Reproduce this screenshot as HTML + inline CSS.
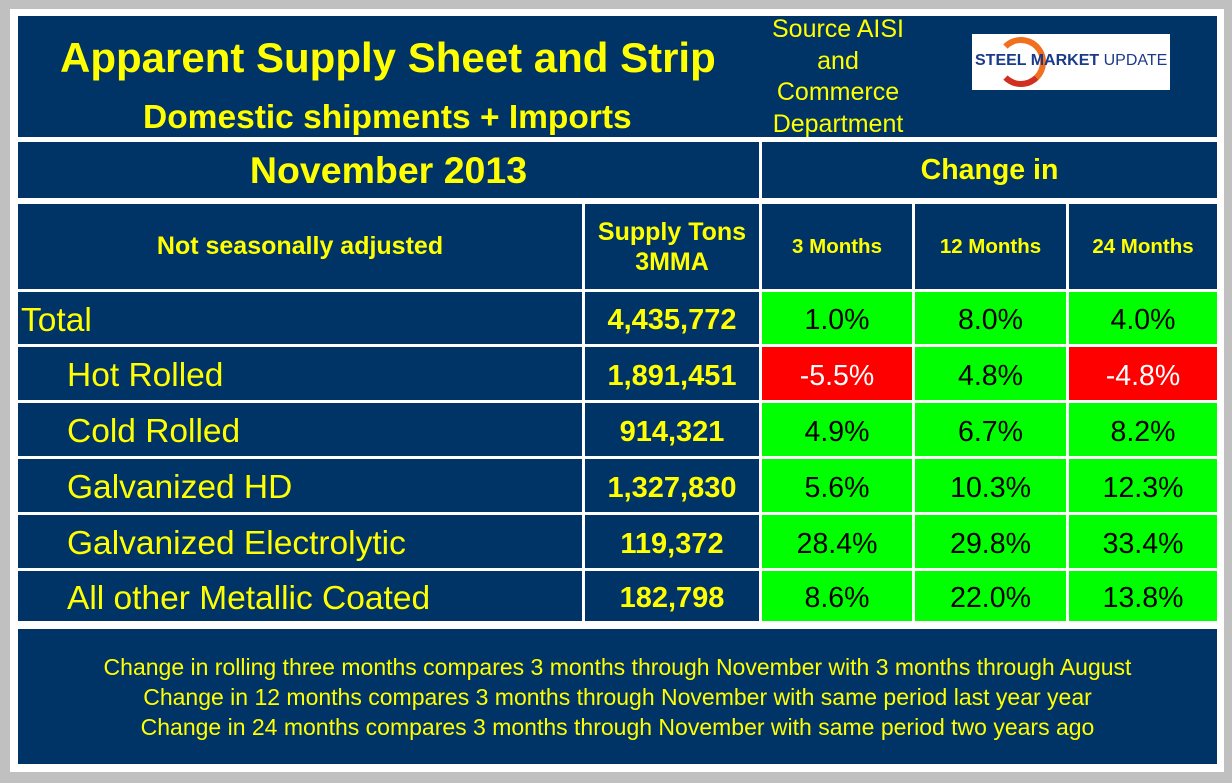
<!DOCTYPE html>
<html><head><meta charset="utf-8"><style>
*{margin:0;padding:0;box-sizing:border-box}
body{width:1232px;height:783px;background:#c0c0c0;position:relative;overflow:hidden;font-family:"Liberation Sans",Arial,sans-serif}
.abs{position:absolute}
.c{position:absolute;display:flex;align-items:center;justify-content:center;text-align:center;background:#003366;color:#ffff00}
.b{font-weight:bold}
.g{background:#00ff00;color:#000;font-size:28.5px}
.r{background:#ff0000;color:#fff;font-size:28.5px}
.lbl{justify-content:flex-start;font-size:33.5px}
.num{font-weight:bold;font-size:29px}
.row{padding-top:5px}
</style></head><body>
<div class="abs" style="left:10px;top:9px;width:1214px;height:763px;background:#fff"></div>
<div class="c" style="left:18px;top:16px;width:1199px;height:121px"></div>
<div class="abs b" style="left:60px;top:34px;color:#ff0;font-size:42px;white-space:nowrap">Apparent Supply Sheet and Strip</div>
<div class="abs b" style="left:143px;top:99px;color:#ff0;font-size:33.5px;white-space:nowrap">Domestic shipments + Imports</div>
<div class="abs" style="left:738px;top:14px;width:200px;text-align:center;color:#ff0;font-size:25px;line-height:31.5px">Source AISI<br>and<br>Commerce<br>Department</div>
<div class="abs" style="left:972px;top:34px;width:198px;height:56px;background:#fff;overflow:hidden">
<div class="abs" style="left:24px;top:3px;width:50px;height:50px;border-radius:50%;border:6px solid #f07020;border-bottom-color:#d03020;border-left-color:transparent;"></div>
<div class="abs" style="left:3px;top:18px;font-size:16px;white-space:nowrap;color:#1a3a8a"><b>STEEL MARKET</b> UPDATE</div>
</div>
<div class="c b" style="left:18px;top:142px;width:741px;height:56px;font-size:37.5px">November 2013</div>
<div class="c b" style="left:762px;top:142px;width:455px;height:56px;font-size:28.5px">Change in</div>
<div class="c b" style="left:18px;top:204px;width:564px;height:85px;font-size:25px">Not seasonally adjusted</div>
<div class="c b" style="left:585px;top:204px;width:174px;height:85px;font-size:25px;line-height:30px">Supply Tons<br>3MMA</div>
<div class="c b" style="left:762px;top:204px;width:150px;height:85px;font-size:20.5px">3 Months</div>
<div class="c b" style="left:915px;top:204px;width:151px;height:85px;font-size:20.5px">12 Months</div>
<div class="c b" style="left:1069px;top:204px;width:148px;height:85px;font-size:20.5px">24 Months</div>
<div id="rows"></div>
<div class="c" style="left:18px;top:629px;width:1199px;height:135px;font-size:23px;line-height:30px">Change in rolling three months compares 3 months through November with 3 months through August<br>Change in 12 months compares 3 months through November with same period last year year<br>Change in 24 months compares 3 months through November with same period two years ago</div>
<script>
const labels=["Total","Hot Rolled","Cold Rolled","Galvanized HD","Galvanized Electrolytic","All other Metallic Coated"];
const tons=["4,435,772","1,891,451","914,321","1,327,830","119,372","182,798"];
const ch3=[1.0,-5.5,4.9,5.6,28.4,8.6];
const ch12=[8.0,4.8,6.7,10.3,29.8,22.0];
const ch24=[4.0,-4.8,8.2,12.3,33.4,13.8];
const tops=[292,347,403,459,515,571],hs=[52,53,53,53,53,50];
const host=document.getElementById('rows');
function cell(cls,x,y,w,h,txt,name){const d=document.createElement('div');d.className='c row '+cls;d.style.cssText=`left:${x}px;top:${y}px;width:${w}px;height:${h}px`;d.textContent=txt;


host.appendChild(d);return d;}
labels.forEach((l,i)=>{const y=tops[i],h=hs[i];const slug=l.toLowerCase().replace(/ /g,'-');
const a=cell('lbl',18,y,564,h,l,slug+'-label');a.style.paddingLeft=i?'49px':'3px';
cell('num',585,y,174,h,tons[i],slug+'-tons');
[[ch3,762,150,'3m'],[ch12,915,151,'12m'],[ch24,1069,148,'24m']].forEach(([arr,x,w,k])=>{const v=arr[i];cell(v<0?'r':'g',x,y,w,h,v.toFixed(1)+'%',slug+'-change-'+k);});
});
</script>
</body></html>
